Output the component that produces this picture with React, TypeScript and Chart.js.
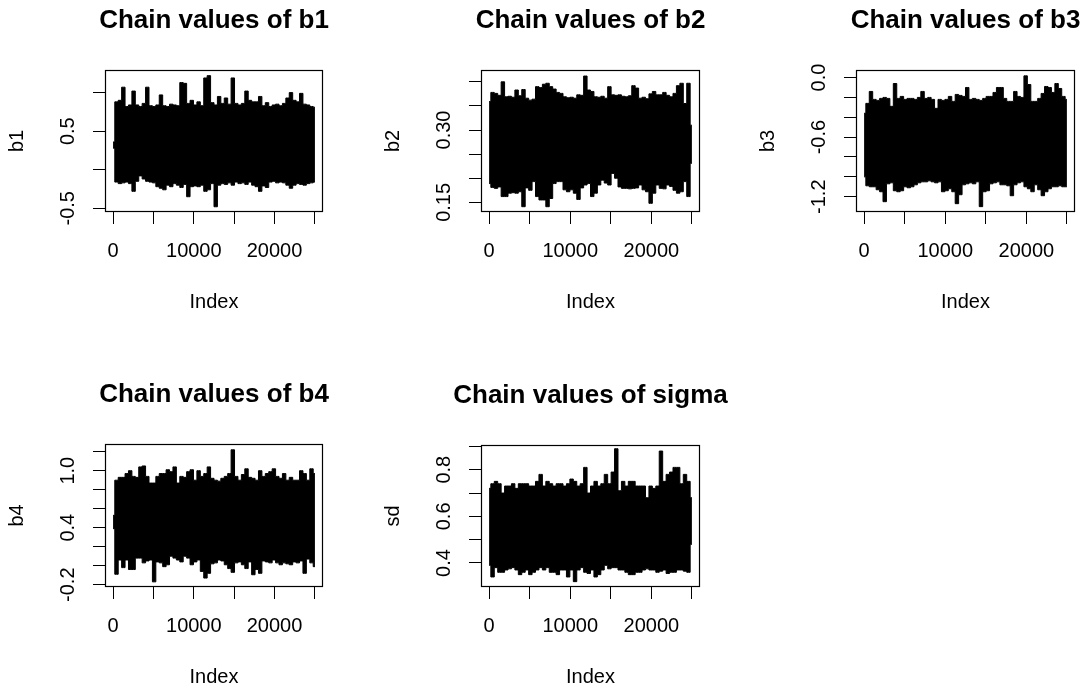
import React, { useEffect, useRef } from "react";
import { Chart, registerables } from "chart.js";

Chart.register(...registerables);

const FONT = "'Liberation Sans', Arial, Helvetica, sans-serif";
Chart.defaults.font.family = FONT;
Chart.defaults.color = "#000";

// ---- shared x axis (chain index) ----
const chainLength = 25000;
const indexRange = [-999, 26000];
const indexTicks = [0, 5000, 10000, 15000, 20000, 25000];
const indexTickLabels = ["0", "", "10000", "", "20000", ""];

// ---- chain envelopes (lower / upper value in each stretch of the chain) ----
const b1Upper = [0.36, 0.88, 0.90, 1.07, 0.82, 0.84, 1.02, 0.84, 0.82, 0.86, 1.07, 0.83, 0.82, 0.84, 0.97, 0.83, 0.82, 0.85, 0.84, 0.83, 1.13, 1.12, 0.86, 0.90, 0.84, 0.88, 0.83, 1.19, 1.22, 0.87, 0.84, 0.95, 0.86, 0.93, 0.85, 1.19, 0.86, 0.84, 0.86, 1.02, 0.90, 0.88, 0.88, 0.95, 0.83, 0.87, 0.82, 0.84, 0.85, 0.83, 0.86, 0.93, 1.00, 0.90, 0.88, 0.99, 0.85, 0.84, 0.82, 0.81];
const b1Lower = [0.28, -0.16, -0.18, -0.17, -0.16, -0.18, -0.28, -0.15, -0.08, -0.12, -0.15, -0.16, -0.17, -0.22, -0.24, -0.26, -0.20, -0.22, -0.18, -0.20, -0.23, -0.19, -0.35, -0.22, -0.21, -0.22, -0.20, -0.28, -0.26, -0.18, -0.48, -0.20, -0.18, -0.19, -0.17, -0.20, -0.16, -0.18, -0.17, -0.19, -0.16, -0.20, -0.22, -0.28, -0.21, -0.23, -0.16, -0.15, -0.17, -0.16, -0.17, -0.20, -0.24, -0.20, -0.18, -0.19, -0.20, -0.18, -0.17, -0.16];

const b2Upper = [0.359, 0.378, 0.376, 0.372, 0.400, 0.369, 0.370, 0.368, 0.383, 0.371, 0.384, 0.366, 0.362, 0.364, 0.390, 0.388, 0.395, 0.397, 0.390, 0.385, 0.378, 0.376, 0.369, 0.367, 0.368, 0.366, 0.373, 0.372, 0.412, 0.383, 0.380, 0.369, 0.368, 0.370, 0.366, 0.390, 0.373, 0.372, 0.373, 0.370, 0.369, 0.371, 0.392, 0.387, 0.366, 0.368, 0.365, 0.375, 0.380, 0.373, 0.373, 0.378, 0.372, 0.369, 0.376, 0.392, 0.397, 0.355, 0.397, 0.310];
const b2Lower = [0.189, 0.181, 0.179, 0.182, 0.162, 0.162, 0.169, 0.170, 0.169, 0.172, 0.141, 0.180, 0.175, 0.193, 0.162, 0.155, 0.155, 0.141, 0.158, 0.189, 0.193, 0.193, 0.176, 0.172, 0.176, 0.169, 0.156, 0.180, 0.186, 0.189, 0.162, 0.169, 0.186, 0.196, 0.190, 0.186, 0.210, 0.200, 0.182, 0.179, 0.179, 0.178, 0.179, 0.180, 0.186, 0.176, 0.172, 0.148, 0.169, 0.186, 0.179, 0.178, 0.186, 0.183, 0.175, 0.169, 0.172, 0.193, 0.162, 0.231];

const b3Upper = [-0.36, -0.26, -0.14, -0.22, -0.23, -0.21, -0.20, -0.21, -0.29, -0.06, -0.21, -0.19, -0.22, -0.21, -0.21, -0.22, -0.20, -0.14, -0.21, -0.20, -0.22, -0.31, -0.22, -0.23, -0.22, -0.19, -0.24, -0.17, -0.18, -0.19, -0.10, -0.22, -0.21, -0.22, -0.23, -0.21, -0.19, -0.19, -0.15, -0.10, -0.10, -0.21, -0.24, -0.24, -0.14, -0.19, -0.20, 0.017, -0.07, -0.24, -0.24, -0.21, -0.16, -0.09, -0.10, -0.15, -0.06, -0.11, -0.19, -0.22];
const b3Lower = [-1.00, -1.09, -1.10, -1.10, -1.13, -1.15, -1.25, -1.07, -1.06, -1.14, -1.15, -1.14, -1.10, -1.11, -1.10, -1.08, -1.06, -1.05, -1.05, -1.04, -1.05, -1.06, -1.05, -1.15, -1.14, -1.12, -1.15, -1.27, -1.18, -1.08, -1.07, -1.06, -1.07, -1.05, -1.30, -1.15, -1.14, -1.07, -1.06, -1.05, -1.08, -1.08, -1.09, -1.19, -1.08, -1.06, -1.05, -1.10, -1.12, -1.15, -1.08, -1.13, -1.19, -1.15, -1.12, -1.10, -1.10, -1.09, -1.10, -1.10];

const b4Upper = [0.53, 0.90, 0.93, 0.93, 0.97, 1.00, 0.94, 0.93, 1.04, 1.05, 0.94, 0.87, 0.87, 0.94, 0.97, 0.97, 1.01, 0.99, 1.04, 0.87, 0.94, 0.93, 0.99, 1.01, 0.90, 1.00, 0.94, 0.97, 1.04, 0.92, 0.90, 0.89, 0.92, 0.94, 0.97, 1.22, 0.94, 0.90, 0.96, 1.02, 0.93, 0.92, 0.90, 1.00, 0.94, 0.97, 0.99, 1.02, 0.94, 0.92, 0.97, 0.90, 0.93, 0.90, 0.90, 1.00, 0.97, 0.90, 1.02, 0.97];
const b4Lower = [0.39, -0.09, 0.06, -0.02, 0.06, -0.04, -0.04, 0.08, 0.08, 0.03, 0.05, 0.06, -0.17, 0.04, 0.03, -0.01, 0.01, 0.10, 0.08, 0.06, 0.04, 0.10, 0.08, 0.01, 0.04, 0.06, -0.06, -0.13, -0.08, 0.02, 0.03, 0.06, 0.05, 0.01, -0.03, -0.07, 0.03, 0.04, 0.01, -0.03, 0.04, -0.095, -0.04, -0.08, 0.05, 0.04, 0.03, 0.06, 0.03, 0.01, 0.03, 0.02, 0.01, 0.04, 0.03, 0.05, -0.08, 0.07, 0.03, -0.01];

const sigmaUpper = [0.72, 0.74, 0.75, 0.74, 0.70, 0.73, 0.73, 0.74, 0.72, 0.74, 0.74, 0.74, 0.73, 0.73, 0.75, 0.78, 0.73, 0.75, 0.74, 0.73, 0.74, 0.74, 0.73, 0.74, 0.76, 0.75, 0.73, 0.74, 0.81, 0.70, 0.73, 0.75, 0.73, 0.74, 0.78, 0.74, 0.79, 0.89, 0.71, 0.75, 0.73, 0.75, 0.75, 0.73, 0.73, 0.73, 0.68, 0.73, 0.72, 0.73, 0.88, 0.75, 0.78, 0.79, 0.81, 0.81, 0.74, 0.78, 0.75, 0.68];
const sigmaLower = [0.39, 0.34, 0.38, 0.36, 0.36, 0.37, 0.375, 0.38, 0.37, 0.35, 0.36, 0.37, 0.35, 0.36, 0.37, 0.38, 0.37, 0.38, 0.36, 0.36, 0.35, 0.37, 0.37, 0.34, 0.37, 0.32, 0.37, 0.38, 0.36, 0.355, 0.37, 0.34, 0.35, 0.37, 0.39, 0.375, 0.38, 0.38, 0.37, 0.37, 0.36, 0.35, 0.35, 0.36, 0.36, 0.37, 0.375, 0.37, 0.37, 0.36, 0.365, 0.37, 0.355, 0.36, 0.36, 0.37, 0.37, 0.365, 0.36, 0.48];

// ---- y axes ----
const b1YRange = [-0.548, 1.293];
const b1YTicks = [-0.5, 0, 0.5, 1.0];
const b1YLabels = ["-0.5", "", "0.5", ""];

const b2YRange = [0.130, 0.4245];
const b2YTicks = [0.15, 0.2, 0.25, 0.3, 0.35, 0.4];
const b2YLabels = ["0.15", "", "", "0.30", "", ""];

const b3YRange = [-1.354, 0.076];
const b3YTicks = [-1.2, -1.0, -0.8, -0.6, -0.4, -0.2, 0.0];
const b3YLabels = ["-1.2", "", "", "-0.6", "", "", "0.0"];

const b4YRange = [-0.224, 1.281];
const b4YTicks = [-0.2, 0, 0.2, 0.4, 0.6, 0.8, 1.0, 1.2];
const b4YLabels = ["-0.2", "", "", "0.4", "", "", "1.0", ""];

const sigmaYRange = [0.297, 0.906];
const sigmaYTicks = [0.4, 0.5, 0.6, 0.7, 0.8, 0.9];
const sigmaYLabels = ["0.4", "", "0.6", "", "0.8", ""];

// ---- panels (layout: plot box position in the page) ----
const panels = [
  { id: "b1", title: "Chain values of b1", yTitle: "b1", upper: b1Upper, lower: b1Lower, yRange: b1YRange, yTicks: b1YTicks, yLabels: b1YLabels, box: { left: 105, top: 70, width: 218, height: 142 } },
  { id: "b2", title: "Chain values of b2", yTitle: "b2", upper: b2Upper, lower: b2Lower, yRange: b2YRange, yTicks: b2YTicks, yLabels: b2YLabels, box: { left: 481, top: 70, width: 219, height: 142 } },
  { id: "b3", title: "Chain values of b3", yTitle: "b3", upper: b3Upper, lower: b3Lower, yRange: b3YRange, yTicks: b3YTicks, yLabels: b3YLabels, box: { left: 856, top: 70, width: 219, height: 142 } },
  { id: "b4", title: "Chain values of b4", yTitle: "b4", upper: b4Upper, lower: b4Lower, yRange: b4YRange, yTicks: b4YTicks, yLabels: b4YLabels, box: { left: 105, top: 444, width: 218, height: 143 } },
  { id: "sigma", title: "Chain values of sigma", yTitle: "sd", upper: sigmaUpper, lower: sigmaLower, yRange: sigmaYRange, yTicks: sigmaYTicks, yLabels: sigmaYLabels, box: { left: 481, top: 445, width: 219, height: 142 } },
];

const SIDE = 104; // room left of the box (y axis) and mirrored on the right
const TOP = 70; // room above the box (title)
const BOTTOM = 110; // room below the box (x axis)
const TICK_LEN = 12;
const LABEL_DIST = 37; // distance from box edge to centre of rotated y labels

function widest(labels: string[]): number {
  const c = document.createElement("canvas").getContext("2d");
  if (!c) return 30;
  c.font = `20px ${FONT}`;
  return Math.max(...labels.map((l) => c.measureText(l).width));
}

const boxPlugin = {
  id: "rbox",
  afterDraw(chart: any) {
    const { ctx, chartArea } = chart;
    const { left, top, right, bottom } = chartArea;
    ctx.save();
    ctx.strokeStyle = "#000";
    ctx.lineWidth = 1.2;
    ctx.strokeRect(left + 0.5, top + 0.5, right - left - 1, bottom - top - 1);
    ctx.restore();
  },
};

function TracePanel({ panel }: { panel: any }) {
  const ref = useRef<HTMLCanvasElement>(null);
  const width = SIDE * 2 + panel.box.width;
  const height = TOP + panel.box.height + BOTTOM;

  useEffect(() => {
    const canvas = ref.current;
    if (!canvas) return;
    const n = panel.upper.length;
    const idx = (i: number) => 1 + Math.round((i * (chainLength - 1)) / (n - 1));
    const lowerPts = panel.lower.map((v: number, i: number) => ({ x: idx(i), y: v }));
    const upperPts = panel.upper.map((v: number, i: number) => ({ x: idx(i), y: v }));
    const yPad = LABEL_DIST - TICK_LEN - widest(panel.yLabels) / 2;

    const chart = new Chart(canvas, {
      type: "line",
      data: {
        datasets: [
          {
            data: lowerPts,
            borderColor: "#000",
            borderWidth: 1,
            pointRadius: 0,
            stepped: "middle",
            fill: false,
          },
          {
            data: upperPts,
            borderColor: "#000",
            backgroundColor: "#000",
            borderWidth: 1,
            pointRadius: 0,
            stepped: "middle",
            fill: "-1",
          },
        ],
      },
      options: {
        responsive: false,
        animation: false,
        devicePixelRatio: 1,
        events: [],
        layout: { padding: 0 },
        plugins: {
          legend: { display: false },
          tooltip: { enabled: false },
          title: {
            display: true,
            text: panel.title,
            color: "#000",
            font: { family: FONT, size: 26, weight: "bold", lineHeight: 1.2 },
            padding: { top: 5.4, bottom: 33.4 },
          },
        },
        scales: {
          x: {
            type: "linear",
            position: "bottom",
            min: indexRange[0],
            max: indexRange[1],
            afterBuildTicks: (s: any) => {
              s.ticks = indexTicks.map((v) => ({ value: v }));
            },
            afterFit: (s: any) => {
              s.height = BOTTOM;
            },
            ticks: {
              autoSkip: false,
              minRotation: 0,
              maxRotation: 0,
              padding: 15.7,
              color: "#000",
              font: { family: FONT, size: 20 },
              callback: (_v: any, i: number) => indexTickLabels[i],
            },
            grid: { drawOnChartArea: false, drawTicks: true, tickLength: TICK_LEN, color: "#000", lineWidth: 1 },
            border: { display: false },
            title: { display: true, text: "Index", color: "#000", font: { family: FONT, size: 20 }, padding: { top: 0, bottom: 7.5 } },
          },
          y: {
            type: "linear",
            position: "left",
            min: panel.yRange[0],
            max: panel.yRange[1],
            afterBuildTicks: (s: any) => {
              s.ticks = panel.yTicks.map((v: number) => ({ value: v }));
            },
            afterFit: (s: any) => {
              s.width = SIDE;
            },
            ticks: {
              autoSkip: false,
              minRotation: 90,
              maxRotation: 90,
              crossAlign: "center",
              padding: yPad,
              color: "#000",
              font: { family: FONT, size: 20 },
              callback: (_v: any, i: number) => panel.yLabels[i],
            },
            grid: { drawOnChartArea: false, drawTicks: true, tickLength: TICK_LEN, color: "#000", lineWidth: 1 },
            border: { display: false },
            title: { display: true, text: panel.yTitle, color: "#000", font: { family: FONT, size: 20 }, padding: { top: 4, bottom: 0 } },
          },
          yRight: {
            type: "linear",
            position: "right",
            display: true,
            afterFit: (s: any) => {
              s.width = SIDE;
            },
            ticks: { display: false },
            grid: { display: false, drawTicks: false },
            border: { display: false },
          },
        },
      } as any,
      plugins: [boxPlugin],
    });
    return () => chart.destroy();
  }, [panel]);

  return (
    <canvas
      ref={ref}
      width={width}
      height={height}
      style={{
        position: "absolute",
        left: panel.box.left - SIDE,
        top: panel.box.top - TOP,
        width,
        height,
        display: "block",
      }}
    />
  );
}

export default function App() {
  return (
    <div
      style={{
        position: "absolute",
        left: 0,
        top: 0,
        width: 1090,
        height: 692,
        overflow: "hidden",
        background: "#fff",
      }}
    >
      {panels.map((p) => (
        <TracePanel key={p.id} panel={p} />
      ))}
    </div>
  );
}
